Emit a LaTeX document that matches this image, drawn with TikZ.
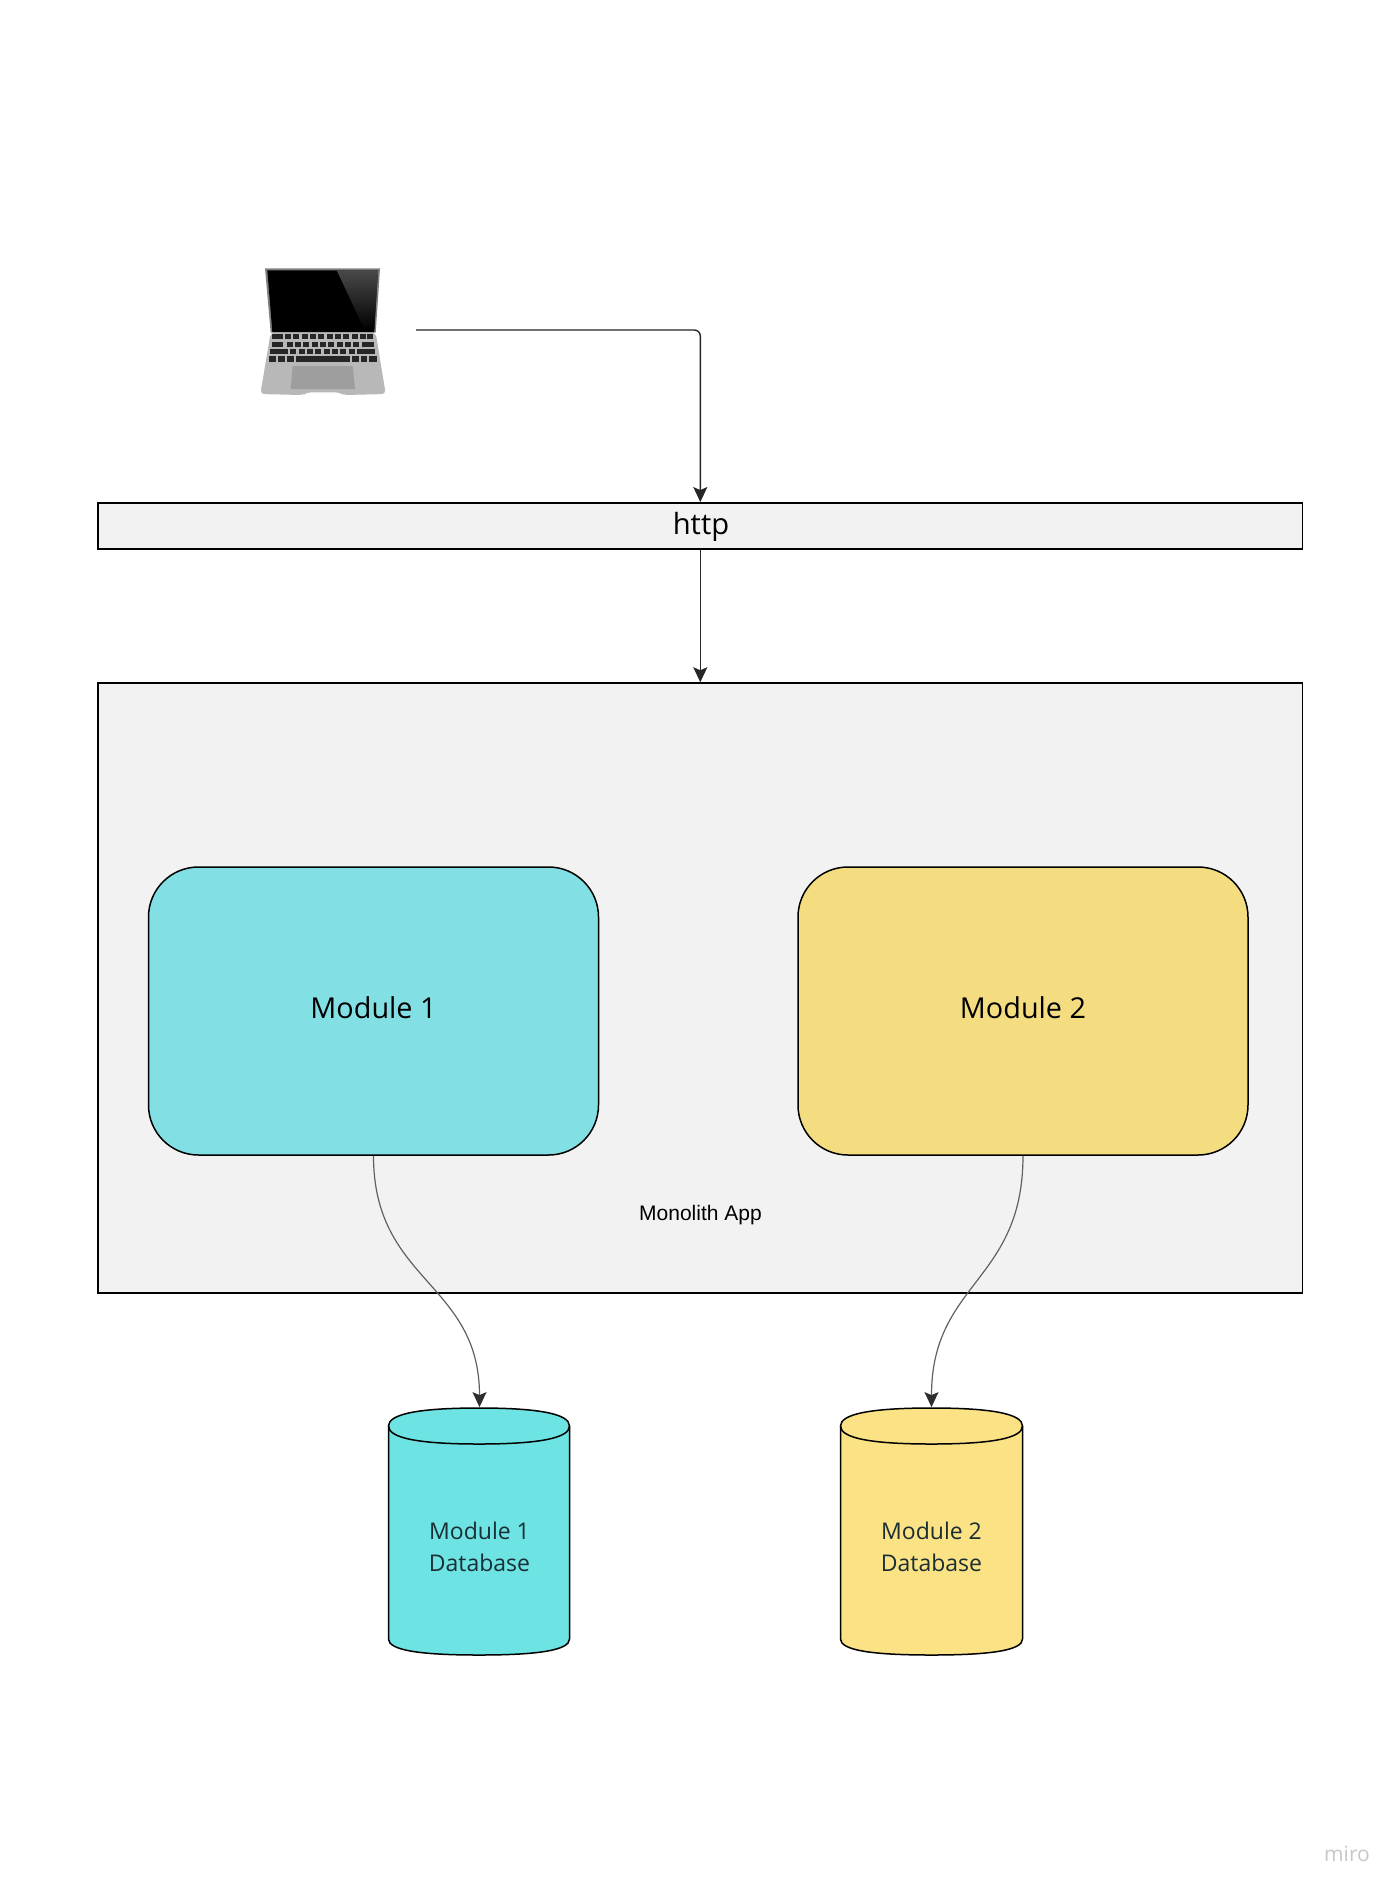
\documentclass[tikz,border=0pt]{standalone}
\usepackage{fontspec}
\setmainfont{Open Sans}
\newfontfamily\arialfont{Liberation Sans}
\usetikzlibrary{arrows.meta}
\definecolor{panel}{HTML}{F2F2F2}
\definecolor{modA}{HTML}{82E0E5}
\definecolor{modB}{HTML}{F4DD80}
\definecolor{dbA}{HTML}{6DE3E3}
\definecolor{dbB}{HTML}{FAE285}
\definecolor{dbtext}{HTML}{1A2E33}
\tikzset{
  panelbox/.style={draw=black,line width=0.75pt,fill=panel,rectangle,inner sep=0pt},
  modulebox/.style={draw=black,line width=0.75pt,rectangle,rounded corners=25pt,minimum width=225pt,minimum height=144pt,inner sep=0pt,text depth=3pt,font=\fontsize{14.4}{17}\selectfont},
  dbnode/.style={rectangle,inner sep=0pt,minimum width=90.5pt,minimum height=139.5pt,align=center,text=dbtext,font=\fontsize{11.5}{15.8}\selectfont},
  cyl/.style={draw=black,line width=0.75pt},
  link/.style={draw=black!85,line width=0.7pt,-{Stealth[length=7.5pt,width=7pt,inset=1.5pt]}},
  curvelink/.style={draw=black!62,line width=0.6pt,-{Stealth[length=7.5pt,width=7pt,inset=1.5pt,color=black!82]}},
}
\newcommand{\cylshape}[5]{% left right top bottom fill
  \path[cyl,fill=#5] (#1,#3+18) -- (#1,#4-16)
    .. controls (#1,#4-5) and (#1+30,#4) .. ({(#1+#2)/2},#4)
    .. controls (#2-30,#4) and (#2,#4-5) .. (#2,#4-16)
    -- (#2,#3+18)
    .. controls (#2,#3+6) and (#2-30,#3) .. ({(#1+#2)/2},#3)
    .. controls (#1+30,#3) and (#1,#3+6) .. (#1,#3+18) -- cycle;
  \path[cyl] (#1,#3+18) .. controls (#1,#3+30) and (#1+30,#3+36) .. ({(#1+#2)/2},#3+36)
    .. controls (#2-30,#3+36) and (#2,#3+30) .. (#2,#3+18);
}
\begin{document}
\begin{tikzpicture}[x=0.5pt,y=-0.5pt]
\useasboundingbox (0,0) rectangle (1400,1892);
\fill[white] (0,0) rectangle (1400,1892);

% panels
\node[panelbox,minimum width=602.3pt,minimum height=23.2pt] (http) at (700.3,526) {};
\node[font=\fontsize{14.6}{18}\selectfont] (httplabel) at (701,526.5) {http};
\node[panelbox,minimum width=602.3pt,minimum height=305pt] (mono) at (700.3,988) {};
\node[font=\arialfont\fontsize{10.5}{13}\selectfont] (monolabel) at (700.5,1215.5) {Monolith App};

% modules
\node[modulebox,fill=modA] (m1) at (373.5,1011) {Module 1};
\node[modulebox,fill=modB] (m2) at (1023,1011) {Module 2};

% databases
\cylshape{388.5}{569.5}{1408}{1655}{dbA}
\cylshape{840.5}{1022.5}{1408}{1655}{dbB}
\node[dbnode] (db1) at (479.5,1547) {Module 1\\Database};
\node[dbnode] (db2) at (931.5,1547) {Module 2\\Database};

% laptop
\begin{scope}[shift={(230,240)},x=0.1667pt,y=-0.1667pt]
  \fill[black!50] (105,85) -- (450,85) -- (437,278) -- (122,278) -- cycle;
  \fill[black] (112,91) -- (444,91) -- (432,276) -- (127,276) -- cycle;
  \shade[top color=black!68,bottom color=black,opacity=0.9]
    (320,91) -- (444,91) -- (433,272) -- (405,272) -- cycle;
  \fill[rounded corners=2pt,black!28] (122,278) -- (437,278) -- (467,462) -- (340,465) -- (330,457) -- (230,457) -- (220,465) -- (91,462) -- cycle;
  \fill[black!38] (188,378) -- (368,378) -- (375,447) -- (182,447) -- cycle;
  \foreach \a/\b in {127/160,165/183,190/208,215/233,240/258,265/283,290/308,315/333,340/358,365/383,390/408,410/430}
    \fill[black!85] (\a,283) rectangle (\b,298);
  \foreach \a/\b in {125/160,170/188,195/213,220/238,245/263,270/288,295/313,320/338,345/363,370/388,395/433}
    \fill[black!85] (\a,305) rectangle (\b,320);
  \foreach \a/\b in {120/175,181/199,206/224,231/249,256/274,281/299,306/324,331/349,356/374,381/436}
    \fill[black!85] (\a,327) rectangle (\b,343);
  \foreach \a/\b in {116/137,143/165,170/192,197/360,366/388,392/412,418/440}
    \fill[black!85] (\a,349) rectangle (\b,367);
\end{scope}
\coordinate (laptop) at (416,330);
\coordinate (turn) at (700.3,330);

% connectors
\draw[link,rounded corners=3pt] (laptop) -- (turn) -- (http.north);
\draw[link] (http.south) -- (mono.north);
\draw[curvelink] (m1.south) .. controls (373.5,1282) and (479.5,1282) .. (db1.north);
\draw[curvelink] (m2.south) .. controls (1023,1282) and (931.5,1282) .. (db2.north);

% watermark
\node[text=black!22,font=\fontsize{10.5}{12}\selectfont] (wm) at (1347,1854) {miro};
\end{tikzpicture}
\end{document}
